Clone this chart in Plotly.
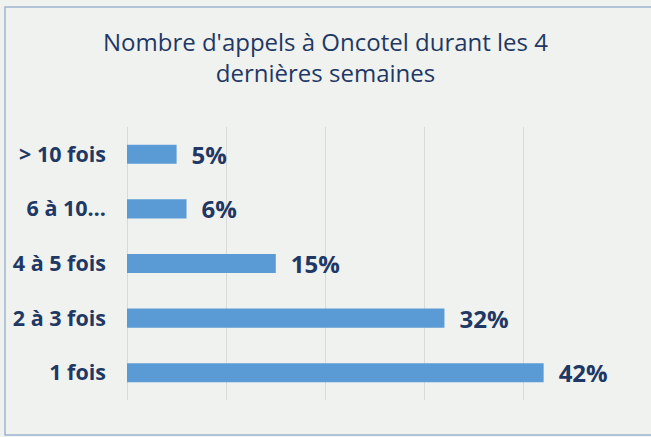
import plotly.graph_objects as go

categories = ["1 fois", "2 à 3 fois", "4 à 5 fois", "6 à 10…", "> 10 fois"]
values = [42, 32, 15, 6, 5]
labels = ["42%", "32%", "15%", "6%", "5%"]

navy = "#1f3864"
fig = go.Figure()
fig.add_trace(go.Bar(
    x=values, y=categories, orientation="h",
    marker=dict(color="#5b9bd5", line=dict(width=0)),
    text=labels, texttemplate="\u2002%{text}", textposition="outside",
    cliponaxis=False, constraintext="none",
    textfont=dict(family="Open Sans", size=24, color=navy, weight="bold"),
))
fig.update_layout(
    width=651, height=437,
    margin=dict(l=127, r=28, t=127, b=37, autoexpand=False),
    paper_bgcolor="#f0f2f0", plot_bgcolor="#f0f2f0",
    bargap=0.65,
    showlegend=False,
    title=dict(text="Nombre d'appels à Oncotel durant les 4<br>dernières semaines",
               x=0.5, xanchor="center", yref="container", y=1 - 51/437, yanchor="top",
               font=dict(family="Open Sans", size=24, color=navy)),
    xaxis=dict(range=[0, 50], dtick=10, showticklabels=False,
               showgrid=True, gridcolor="#d9d9d9", gridwidth=1,
               zeroline=True, zerolinecolor="#d9d9d9", zerolinewidth=1, fixedrange=True),
    yaxis=dict(categoryorder="array", categoryarray=categories,
               tickfont=dict(family="Open Sans", size=21.5, color=navy, weight="bold"),
               ticklabelstandoff=20, showline=False, fixedrange=True, automargin=False),
    shapes=[dict(type="rect", xref="paper", yref="paper",
                 x0=-122/496, x1=1+40/496, y0=-35/273, y1=1+120/273,
                 line=dict(color="#9db4cf", width=1.5), fillcolor="rgba(0,0,0,0)", layer="below")],
)
fig.write_html("out.html", config={"displayModeBar": False},
               post_script="document.body.style.margin='0';")
